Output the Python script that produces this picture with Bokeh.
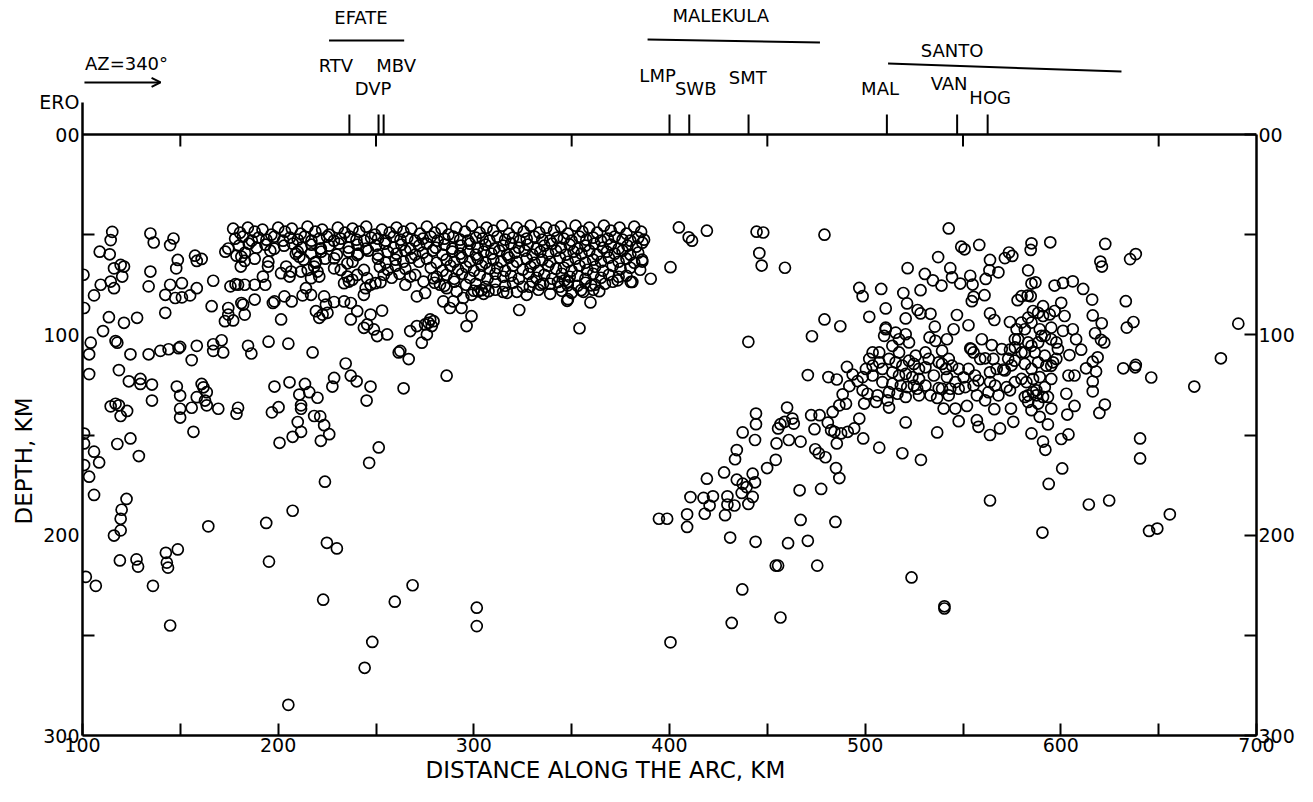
from bokeh.plotting import figure
from bokeh.models import Range1d, LinearAxis, FixedTicker, Label, Arrow, OpenHead, Title, Span
from bokeh.embed import file_html
from bokeh.resources import INLINE

FONT = "DejaVu Sans"

# ---------------- axis / annotation data ----------------
X_LABEL_TICKS = [100, 200, 300, 400, 500, 600, 700]
X_MINOR_TICKS = [150, 250, 350, 450, 550, 650]
Y_LABEL_TICKS = [0, 100, 200, 300]
Y_MINOR_TICKS = [50, 150, 250]

STATIONS = ["ERO", "RTV", "DVP", "MBV", "LMP", "SWB", "SMT", "MAL", "VAN", "HOG"]
STATION_KM = [100, 236.4, 251.3, 253.9, 400, 410.1, 440.4, 511.1, 547.0, 562.6]

ISLANDS = ["EFATE", "MALEKULA", "SANTO"]
ISLAND_START_KM = [226.0, 388.8, 511.7]
ISLAND_END_KM = [264.4, 476.9, 631.0]

AZIMUTH_TEXT = "AZ=340°"

# ---------------- earthquake hypocentres (distance km, depth km) ----------------
SHALLOW_BAND = [
    (177, 47), (184.5, 46.5), (192, 47.5), (200, 46.5), (207, 47), (215, 46), (222.5, 47.5), (230.5, 46.5),
    (238, 47), (245, 46), (253, 47.5), (260.5, 46.5), (268, 47), (276, 46), (283.5, 47), (291, 46.5),
    (299, 45.5), (306.5, 46.5), (314.5, 45.5), (322, 46.5), (329, 45.5), (337, 46.5), (344.5, 46),
    (352, 45.5), (359, 46.5), (366.5, 45.5), (374.5, 46.5), (382, 46),
    (180.5, 49), (188, 48.5), (196.5, 50), (203.5, 48.5), (211.5, 49.5), (219, 48.5), (226, 50), (234, 49),
    (241.5, 48.5), (249.5, 50), (257, 49), (264, 48.5), (272.5, 49.5), (280, 49), (287, 50), (295.5, 48.5),
    (303, 49), (310, 48), (318, 49.5), (325.5, 48.5), (333.5, 49), (341, 48), (348, 49.5), (355.5, 48.5),
    (363, 49), (370, 48), (378, 49.5), (385.5, 48.5),
    (178, 52), (182, 51), (186.5, 53), (190, 51.5), (194, 52.5), (198, 51), (202.5, 53), (206, 51.5),
    (210, 52.5), (213.5, 51), (217, 53), (221, 52), (225, 51), (228.5, 53), (232, 52), (236.5, 51),
    (240, 52.5), (244, 53), (247.5, 51.5), (251, 52), (255, 53), (259, 51), (262.5, 52.5), (266, 51.5),
    (270, 53), (274, 52), (278, 51), (281.5, 53), (285, 52), (289.5, 51), (293, 52.5), (297, 53),
    (301, 51.5), (304.5, 52), (308, 53), (312, 51), (316, 52.5), (320, 51.5), (323.5, 53), (327, 52),
    (331, 51), (335, 52.5), (339, 53), (342.5, 51.5), (346, 52), (350, 53), (354, 51), (357.5, 52.5),
    (361, 51.5), (365, 53), (368.5, 52), (372, 51), (376, 52.5), (380, 53), (384, 51.5), (387, 52.5),
    (180, 55.5), (185, 54.5), (189, 56.5), (193.5, 55), (198, 57), (203, 55.5), (207.5, 54.5), (212, 56.5),
    (217, 55), (221.5, 57), (226, 55.5), (231, 54.5), (236, 56.5), (240.5, 55), (245, 57), (250, 55.5),
    (254.5, 54.5), (259, 56.5), (263, 55), (267.5, 57), (272, 55.5), (276, 54.5), (280.5, 56.5), (285, 55),
    (289, 57), (293.5, 55.5), (298, 54.5), (302, 56.5), (306, 55), (310.5, 57), (315, 55.5), (319, 54.5),
    (323, 56.5), (327.5, 55), (332, 57), (336, 55.5), (340, 54.5), (344.5, 56.5), (349, 55), (353, 57),
    (357, 55.5), (361.5, 54.5), (366, 56.5), (370, 55), (374, 57), (378.5, 55.5), (383, 56),
    (183, 59), (196, 58), (209, 59.5), (222, 58.5), (230, 60), (236, 58.5), (241, 59.5), (246, 58), (251, 60),
    (256, 58.5), (260.5, 59.5), (265, 58), (270, 60), (274, 59), (279, 58), (284, 60), (289, 58.5),
    (293, 59.5), (297, 58), (301, 60), (305, 58.5), (309, 59.5), (313, 58), (317, 60), (321, 59), (326, 58),
    (330, 60), (334, 58.5), (338, 59.5), (342, 58), (347, 60), (351, 58.5), (355, 59.5), (359, 58), (363, 60),
    (368, 58.5), (372, 59.5), (376, 58), (380, 60), (384, 59),
    (188, 62), (195, 63.5), (213, 62.5), (219, 64), (224, 62), (238, 63.5), (251, 62), (255, 64), (260, 62.5),
    (264, 63.5), (268, 61.5), (272, 63.5), (276, 62), (281, 64), (286, 62.5), (290, 63.5), (294, 61.5),
    (298, 63.5), (302, 62), (306, 64), (310, 62.5), (314, 63.5), (318, 61.5), (322, 63.5), (327, 62),
    (331, 64), (335, 62.5), (339, 63.5), (344, 61.5), (348, 63.5), (352, 62), (357, 64), (361, 62.5),
    (365, 63.5), (369, 61.5), (374, 63.5), (378, 62), (382, 64), (386, 62.5),
    (252, 66), (256, 67.5), (260, 65.5), (265, 67), (278, 66.5), (284, 68), (288, 65.5), (292, 67.5),
    (296, 66), (300, 68), (304, 65.5), (308, 67), (312, 66.5), (316, 68), (320, 65.5), (325, 67.5), (329, 66),
    (333, 68), (338, 65.5), (342, 67), (346, 66.5), (350, 68), (354, 65.5), (358, 67.5), (362, 66), (366, 68),
    (371, 65.5), (375, 67), (380, 66.5), (385, 67.5),
    (254, 70), (258, 71.5), (262, 69.5), (281, 71), (286, 70), (290, 72), (294, 69.5), (298, 71.5), (303, 70),
    (307, 72), (311, 69.5), (315, 71), (319, 70.5), (323, 72), (328, 69.5), (332, 71.5), (336, 70), (340, 72),
    (345, 69.5), (349, 71), (353, 70.5), (357, 72), (361, 69.5), (365, 71.5), (369, 70), (374, 71),
    (378, 70.5),
    (280, 74), (285, 75.5), (290, 73.5), (296, 75), (301, 74.5), (306, 76), (311, 73.5), (316, 75.5),
    (320, 74), (325, 76), (330, 73.5), (334, 75), (339, 74.5), (344, 76), (348, 73.5), (353, 75.5), (357, 74),
    (362, 75), (367, 74.5), (371, 73.5),
    (300, 78), (305, 79.5), (311, 77.5), (317, 79), (322, 78.5), (327, 80), (333, 77.5), (339, 79.5),
    (345, 78), (350, 79), (356, 78.5), (361, 77.5),
]

EFATE_SCATTER = [
    (115.2, 48.6), (114.4, 52.7), (108.8, 58.5), (113.9, 59.8), (134.7, 49.4), (136.4, 53.9), (146.5, 51.9),
    (144.8, 55.2), (157.5, 60.5), (160.9, 62.1), (158.4, 63.1), (148.7, 62.6), (147.9, 66.8), (134.7, 68.4),
    (119.5, 65.1), (121.2, 65.9), (116.1, 66.8), (120.3, 70.9), (114.4, 73.4), (109.3, 75), (116.1, 76.7),
    (105.9, 80.3), (133.8, 75.8), (144.8, 75), (150.8, 74.2), (158.4, 76.7), (142.3, 80), (147.4, 81.6),
    (150.8, 81.3), (155, 80.3), (166.8, 73), (166, 85.7), (142.3, 89), (113.5, 91.2), (121.2, 94),
    (127.9, 91.5), (110.5, 98.1), (100.8, 86.6), (100.5, 70), (104.2, 103.9), (103.4, 109.7), (116.9, 103.1),
    (117.8, 103.9), (124.5, 109.7), (133.8, 109.7), (139.8, 108), (144, 107.2), (149.9, 106), (149.1, 106.7),
    (158.4, 105.5), (166.8, 104.7), (171.1, 102.7), (166.8, 108), (171.9, 108.8), (155.8, 112.6),
    (184.6, 105.5), (186.3, 109.3), (195.1, 103.4), (205.2, 104.4), (217.6, 108.8), (118.6, 117.6),
    (103.4, 119.6), (123.7, 123.2), (129.6, 122), (129.6, 124.5), (135.5, 124.8), (148.2, 125.8),
    (149.9, 130.3), (160.9, 124.5), (161.8, 126.2), (163.5, 128.6), (158.4, 131.1), (162.6, 132.8),
    (163.5, 135.2), (169.4, 136.9), (155.8, 136.4), (149.9, 136.9), (149.9, 141.3), (114.4, 135.7),
    (116.9, 134.4), (118.6, 135.2), (122.8, 138), (119.5, 140.5), (135.5, 132.8), (156.7, 148.4),
    (179.5, 136.4), (178.7, 139.4), (198.1, 125.8), (205.8, 123.7), (213.7, 124.5), (215.9, 128.6),
    (220.1, 131.4), (210.8, 129.8), (200.2, 136.1), (196.8, 138.7), (211.7, 135.2), (211.7, 136.9),
    (210, 143.5), (218.4, 140.5), (221.5, 140.7), (223.5, 145.1), (226.1, 149.6), (211.7, 148.4),
    (207.4, 150.9), (200.7, 153.9), (221.8, 152.9), (234.5, 114.3), (237.1, 120.4), (240.1, 123.2),
    (247.2, 125.8), (228.6, 121.5), (227.7, 125.8), (245.2, 132.8), (251.4, 156.2), (264.1, 126.7),
    (286.1, 120.4), (124.5, 151.7), (117.8, 154.5), (128.8, 160.5), (105.9, 158.3), (100.8, 149.3),
    (100.8, 154.2),
    (108.5, 163.7), (100.8, 165), (103.4, 170.8), (105.9, 179.9), (122.5, 181.9), (120, 187.3),
    (119.5, 191.8), (119.5, 197.6), (116.1, 200.2), (119.1, 212.6), (127.6, 212.1), (128.4, 215.7),
    (142.6, 208.8), (148.7, 207.1), (143.1, 213.7), (143.7, 216.2), (136, 225.3), (144.8, 245.1),
    (106.8, 225.3), (101.7, 220.8), (164.3, 195.6), (193.9, 193.9), (207.4, 187.8), (195.3, 213.2),
    (223.9, 173.3), (224.9, 203.8), (230, 206.6), (223, 232.2), (246.5, 163.9), (268.7, 225),
    (259.6, 233.2), (248.1, 253.3), (244.2, 266.2), (205.2, 284.7), (301.5, 236.2), (301.5, 245.4),
]

BAND_FRINGE = [
    (174.5, 89.9), (177, 92.8), (172.8, 93.2), (174.5, 86.6), (182.9, 89.9), (181.2, 84.1), (182.1, 84.9),
    (188, 82.4), (197.3, 84.1), (198.1, 83.3), (206.9, 83.3), (201.5, 92.3), (203.2, 80.8), (212.5, 80.3),
    (216.8, 80), (223.5, 80.8), (224.4, 84.9), (228.6, 83.6), (233.7, 83.3), (237.1, 84.1), (219.3, 88.2),
    (225.2, 89), (221, 91.5), (222.7, 89.9), (237.1, 92.3), (240.4, 88.2), (247.2, 89.9), (253.1, 87.9),
    (243.8, 96.5), (245.5, 94.8), (248.9, 97.3), (250.6, 100.6), (255.7, 99.8), (262.4, 108), (261.6, 108.8),
    (266.7, 112.1), (174.5, 56.9), (173, 58.5), (178.7, 60.5), (181.2, 61), (180.9, 65.9), (182.9, 63.1),
    (175.6, 75.8), (178.2, 74.7), (179.5, 75), (182.9, 75), (188, 75), (192.2, 70.9), (193.4, 75),
    (194.8, 65.9), (201.5, 69.2), (204.1, 65.9), (206.6, 68.4), (205.8, 70.9), (210, 58.5), (210.8, 61),
    (211.7, 68.4), (215.1, 67.6), (214.2, 76.7), (218.4, 65.9), (220.1, 68.4), (221, 70.9), (219.3, 63.5),
    (216.8, 59.3), (221.8, 56.9), (216.8, 71.7), (228.6, 66.8), (232, 67.6), (235.4, 70.9), (237.9, 72.5),
    (240.4, 70.1), (243.8, 67.6), (245.5, 71.7), (247.2, 75), (249.7, 74.2), (252.3, 73.7), (233.7, 74.2),
    (236.2, 73.4), (228.6, 61.8), (240.4, 60.2), (235.4, 64.3), (243.8, 80), (244.7, 76.7), (265, 75),
    (267.5, 70.9), (270, 70.1), (274.3, 73.4), (270.9, 80.8), (275.1, 79.1), (277.7, 92.3), (276.8, 94),
    (279.4, 93.2), (275.1, 94.8), (278.5, 95.6), (270.9, 95.6), (276, 99.8), (273.4, 103.9), (267.5, 98.1),
    (287.8, 86.6), (293.7, 86.6), (298.8, 90.7), (296.3, 95.6), (284.4, 83.3), (289.5, 83.3), (294.6, 81.6),
    (291.2, 78.3), (286.1, 76.7), (282.7, 75), (279.4, 71.7), (298.8, 80), (302.2, 78.3),
    (304, 77.7), (307.5, 78.2), (315, 78.6), (328.6, 76), (335.4, 74.4), (343, 73.6), (346.4, 72.8),
    (348, 75.3), (354.8, 77.7), (360, 75.3), (323.2, 87.6), (347.7, 83), (348.1, 82.2), (359.6, 83.8),
    (354, 96.7), (364.1, 78.2), (373.5, 72.8), (380.2, 73.6), (381, 73.6), (386.1, 54), (386.1, 63.4),
    (390.4, 72), (400.5, 66.2),
]

MALEKULA_SLAB = [
    (404.8, 46.4), (409.8, 51.3), (411.5, 53), (419.1, 48), (444.5, 48.5), (447.9, 48.9), (445.9, 59.2),
    (447.1, 65.4), (459, 66.5), (479.2, 50), (479.2, 92.3), (487.3, 95.7), (472.8, 100.7), (440.3, 103.5),
    (470.7, 120.1), (481.2, 121.1), (485.5, 122.3), (490.7, 116), (493.6, 119.8), (496.1, 123.1),
    (491.9, 125.6), (488.5, 129.7),
    (444.2, 139.3), (444.2, 144.6), (443.7, 152.5), (437.4, 148.7), (434.4, 157.5), (433.5, 162.1),
    (427.9, 168.7), (419.1, 171.8), (410.7, 181), (417.4, 181.4), (422.2, 180.6), (420.5, 185.2),
    (418, 189.3), (409, 189.6), (409, 195.9), (394.6, 191.8), (398.8, 191.8), (429.6, 180.6), (429.6, 184.7),
    (433.2, 185.2), (428.4, 190), (434.4, 172.3), (437.4, 174.3), (439.4, 176), (436.9, 178.9),
    (442.5, 180.9), (440.3, 184.4), (442.5, 169.3), (443.7, 173.6), (449.9, 166.5), (454.3, 162.4),
    (454.7, 154.2), (455.5, 146.7), (456.7, 144.6), (458.9, 143.4), (460.1, 136.3), (462.8, 141.8),
    (463.5, 144.3), (461, 152.5), (467, 153.3), (466.5, 177.6), (467, 192.4), (460.6, 204), (470.7, 202.8),
    (475.5, 215.2), (454.3, 215.2), (455.5, 215.2), (437.2, 227.1), (431.8, 243.8), (456.7, 241.1),
    (400.5, 253.5), (431, 201.2), (444, 203.3), (472.4, 140.1), (476.7, 140.1), (474.1, 147.1),
    (474.5, 157.1), (476.3, 159.1), (479.7, 161.1), (480.9, 143.8), (483.4, 138.5), (485.1, 166.5),
    (486.8, 171.5), (484.8, 193.4), (477.5, 176.9), (485.5, 154.2), (484.3, 148.4), (487.7, 149.2),
    (491.1, 148.4), (494.4, 146.7), (497, 141.8), (499, 151.7), (486.8, 135.2), (490.2, 134.4),
    (482.6, 147.6),
]

SANTO_CLUSTER = [
    (542.7, 46.9), (549.1, 56), (550.8, 57.3), (558.3, 55.1), (537.3, 61.2), (521.7, 66.7), (530.5, 69.6),
    (534.6, 72.8), (539, 75.4), (543.5, 66.7), (544.4, 71.3), (548.6, 74.4), (553.7, 70.5), (554.9, 74.9),
    (555.4, 81), (554.5, 83.2), (561, 80.2), (561.6, 72.1), (563.8, 62.6), (563.5, 67.8), (568.1, 68.8),
    (571.4, 61.7), (573.5, 58.9), (575.2, 60.6), (585, 54.3), (584.6, 57.6), (594.6, 53.8), (583.3, 67.8),
    (585, 74.4), (587, 73.8), (577.9, 82.7), (579.9, 80.7), (583, 80.4), (584.6, 80.7), (596.8, 75.4),
    (601.1, 74.1), (606.1, 73.3), (611.4, 77.1), (620.2, 63.4), (621, 65.9), (622.7, 54.6), (635.4, 62.2),
    (638.3, 59.7), (616, 82.4), (633.2, 83.2), (633.7, 96.4), (637.1, 93.6), (620.9, 94.2), (616.3, 90.3),
    (617.5, 99.2), (620.5, 102.5), (622.2, 103.8), (618.8, 111.2), (616.3, 113.4), (618, 118.3),
    (616.3, 123.3), (616.3, 128.2), (622.5, 134.8), (619.7, 139), (631.9, 116.7), (638.3, 115),
    (638, 116.2), (646.2, 121.3), (640.5, 151.7), (668.2, 125.8), (681.8, 111.7), (690.7, 94.4),
    (508.2, 77.1), (510.5, 86.8), (502.1, 91), (498.7, 80.7), (497, 76.6), (519.5, 79.1), (521.4, 84.3),
    (528.3, 77.7), (526.8, 87.6), (528.3, 89.3), (533.4, 89.5), (520.7, 91.8), (535.6, 95.9), (532.9, 101.3),
    (535.9, 103), (541.8, 102.2), (545.2, 97.2), (546.9, 90.1), (552.8, 95.2), (559.6, 102.2), (563.8, 89.3),
    (566, 92.6), (574, 93.6), (564.7, 105.1), (569.8, 107.1), (554.2, 107.1), (510.5, 97.2), (507.2, 108.8),
    (503.8, 108.8), (502.1, 112), (498.7, 121.1), (498.7, 127.7), (503.8, 120.3), (506.3, 130.2),
    (505.5, 133.5), (512.2, 136.3), (520.7, 143.7), (536.8, 148.7), (507.2, 156.3), (519, 159.1),
    (547.8, 143.1), (557.1, 142.6), (557.9, 145.9), (563.8, 150), (568.9, 146.7), (575.7, 143.4),
    (574.5, 136.8), (566, 137.1), (552, 135.5), (546.1, 136.8), (540.1, 136.8), (533.4, 130.2),
    (536.8, 131.5), (527.5, 130.2), (526.6, 126.9), (530.8, 125.3), (537.6, 126.6), (543.5, 126.9),
    (547.8, 126.9), (541.3, 117), (537.6, 113.7), (542.7, 112), (530.8, 108.8), (535.1, 120.3),
    (553.7, 106.8), (555.4, 108.8), (558.8, 112), (561.3, 111.7), (565.5, 112), (563.8, 118.7),
    (567.2, 117), (570.6, 117.3), (574.8, 115.2), (573.1, 111.9), (572.3, 126.1), (574, 127.7),
    (576.5, 123.6), (582.4, 123.6), (583.3, 130.2), (585.8, 128.6), (590.9, 131), (595.1, 136.8),
    (589.2, 140.9), (593.4, 144.7), (585, 149.2), (590.9, 153.3), (592.1, 157.4), (600.2, 152),
    (603.9, 149.7), (603.3, 139.8), (607, 135.5), (602.8, 129.4), (603.9, 120.3), (607, 120.3),
    (604.4, 110.1), (610.4, 107.4), (612.9, 116.7), (607.8, 102.2), (606.1, 97.2), (601.9, 90.6),
    (601.1, 98), (597.7, 103.8), (595.1, 102.2), (598.5, 107.1), (596, 113.7), (597.7, 112), (595.1, 122),
    (591.8, 126.1), (587.5, 130.2), (588.4, 134.3), (585, 137.6), (581.6, 131), (579.9, 122), (576.5, 112.9),
    (574, 107.4), (571.4, 117.8), (581.6, 108.8), (585, 105.5), (588.4, 103.8), (591.8, 100.5),
    (589.2, 97.2), (595.1, 96.4), (590.9, 90.6), (594.3, 89.8), (596.8, 88.1), (600.2, 84), (585, 93.9),
    (581.6, 97.2), (578.2, 102.2), (581.6, 114.5), (585, 117), (588.4, 113.7), (591.8, 110.4),
    (592.6, 115.4), (589.2, 121.1), (585.8, 122), (583.3, 133.5), (587.5, 127.7), (593.4, 131),
    (595.1, 115.4), (590.1, 100.5), (586.7, 108.8), (583.3, 103.8), (579.9, 108.8), (576.5, 106.3),
    (588.4, 89), (590.9, 85.7), (585.8, 88.1), (583.3, 91.4), (579.9, 93.9), (577.4, 97.2), (576.5, 102.2),
    (510.5, 96.4), (509.7, 100.5), (515.6, 98.9), (517.3, 102.2), (520.7, 99.7), (522.4, 103.8),
    (513.9, 105.5), (517.3, 108.8), (512.2, 112), (515.6, 113.7), (519, 115.4), (522.4, 112.9),
    (525.8, 110.4), (524.9, 114.5), (527.5, 117), (513.9, 118.7), (517.3, 120.3), (520.7, 119.5),
    (524.1, 121.1), (527.5, 122), (513.9, 124.4), (518.2, 125.3), (521.5, 126.1), (524.9, 125.3),
    (512.2, 128.6), (516.5, 129.4), (520.7, 131), (511.4, 132.7), (508.8, 123.6), (508.8, 117),
    (507.2, 113.7), (503.8, 115.4), (500.4, 117), (501.2, 129.4), (499.5, 134.3), (530.8, 116.2),
    (532.5, 112), (539.3, 114.5), (544.4, 115.4), (547.8, 117), (546.1, 123.6), (550.3, 121.2),
    (552.8, 117), (556.2, 120.3), (551.1, 126.1), (555.4, 125.3), (557.9, 122.8), (563, 128.6),
    (566.4, 125.3), (561.3, 132.7), (568.1, 130.2), (563.8, 123.6), (557.1, 130.2), (542.7, 130.2),
    (539.3, 126.9), (541.8, 121.1), (539.3, 107.9),
    (528.5, 162.4), (563.8, 182.7), (590.6, 198.7), (614.3, 184.7), (624.7, 182.7), (600.7, 166.7),
    (593.8, 174.4), (640.5, 161.7), (655.7, 189.6), (649.3, 196.7), (645.1, 197.9), (523.7, 221.1),
    (540.5, 235.5), (540.5, 236.6),
]

all_pts = SHALLOW_BAND + EFATE_SCATTER + BAND_FRINGE + MALEKULA_SLAB + SANTO_CLUSTER
dist_km = [pt[0] for pt in all_pts]
depth_km = [pt[1] for pt in all_pts]

# ---------------- figure ----------------
# the frame reaches above depth 0 so that the station/island header is drawn in plot units
TOP_OF_FRAME = -66.9
ERO_LABEL_DEPTH = -16.0
p = figure(width=1297, height=786, x_range=Range1d(100, 700), y_range=Range1d(300, TOP_OF_FRAME),
           output_backend="svg", toolbar_location=None, x_axis_location=None, y_axis_location=None,
           min_border_left=82, min_border_right=40, min_border_top=0, min_border_bottom=51,
           outline_line_color=None, background_fill_color="white", border_fill_color="white")
p.grid.visible = False

axis_style = dict(axis_line_width=2.5, axis_line_color="black", major_tick_line_width=2,
                  minor_tick_line_width=2, major_tick_line_color="black", minor_tick_line_color="black",
                  major_label_text_font=FONT, major_label_text_font_size="19px",
                  major_label_text_color="black")

bottom = LinearAxis(ticker=FixedTicker(ticks=X_LABEL_TICKS, minor_ticks=X_MINOR_TICKS),
                    major_tick_in=12, major_tick_out=0, minor_tick_in=12, minor_tick_out=0,
                    major_label_standoff=2, **axis_style)
p.add_layout(bottom, "below")

# left depth axis; its line is carried up to the ERO station mark, which it labels
left = LinearAxis(ticker=FixedTicker(ticks=[ERO_LABEL_DEPTH] + Y_LABEL_TICKS, minor_ticks=Y_MINOR_TICKS),
                  bounds=(ERO_LABEL_DEPTH, 300),
                  major_tick_in=0, major_tick_out=0, minor_tick_in=12, minor_tick_out=0,
                  major_label_standoff=3, major_label_overrides={ERO_LABEL_DEPTH: STATIONS[0], 0: "00"},
                  **axis_style)
p.add_layout(left, "left")

right = LinearAxis(ticker=FixedTicker(ticks=Y_LABEL_TICKS, minor_ticks=Y_MINOR_TICKS), bounds=(0, 300),
                   major_tick_in=12, major_tick_out=0, minor_tick_in=12, minor_tick_out=0,
                   major_label_standoff=2, major_label_overrides={0: "00"}, **axis_style)
p.add_layout(right, "right")

p.add_layout(Title(text="DEPTH, KM", align="left", offset=211, standoff=0, text_font=FONT,
                   text_font_size="23px", text_font_style="normal", text_color="black"), "left")
p.add_layout(Title(text="DISTANCE ALONG THE ARC, KM", align="left", offset=343, standoff=0, text_font=FONT,
                   text_font_size="23px", text_font_style="normal", text_color="black"), "below")

# top edge of the section (depth 0) with inward minor ticks and outward station ticks
p.add_layout(Span(location=0, dimension="width", line_width=2.5, line_color="black"))
TICK_IN_KM = 6.0
STATION_TICK_KM = 10.0
p.segment(x0=X_MINOR_TICKS, y0=[0] * len(X_MINOR_TICKS), x1=X_MINOR_TICKS,
          y1=[TICK_IN_KM] * len(X_MINOR_TICKS), line_width=2, line_color="black")
p.segment(x0=STATION_KM[1:], y0=[0] * (len(STATION_KM) - 1), x1=STATION_KM[1:],
          y1=[-STATION_TICK_KM] * (len(STATION_KM) - 1), line_width=2, line_color="black")

p.scatter(dist_km, depth_km, marker="circle", size=11, fill_color=None, line_color="black", line_width=1.7)

# ---------------- header annotations ----------------
STATION_LABEL_POS = [None, (229.5, -34.4), (248.5, -23.0), (260.3, -34.4), (393.9, -29.5),
                     (413.4, -23.0), (440.0, -28.5), (507.6, -23.0), (542.9, -25.5), (563.9, -18.5)]
ISLAND_LABEL_POS = [(242.3, -58.4), (426.2, -59.4), (544.4, -41.9)]
ISLAND_BAR_Y = [(-46.9, -46.9), (-47.4, -45.9), (-35.4, -31.5)]

label_style = dict(text_font=FONT, text_font_size="18px", text_color="black",
                   text_align="center", text_baseline="middle")
for name, pos in zip(STATIONS[1:], STATION_LABEL_POS[1:]):
    p.add_layout(Label(x=pos[0], y=pos[1], text=name, **label_style))
for name, (lx, ly), x0, x1, (y0, y1) in zip(ISLANDS, ISLAND_LABEL_POS, ISLAND_START_KM, ISLAND_END_KM, ISLAND_BAR_Y):
    p.add_layout(Label(x=lx, y=ly, text=name, **label_style))
    p.add_layout(Arrow(x_start=x0, y_start=y0, x_end=x1, y_end=y1, end=None, line_width=2, line_color="black"))

p.add_layout(Label(x=122.5, y=-35.4, text=AZIMUTH_TEXT, **label_style))
p.add_layout(Arrow(x_start=101.0, y_start=-26.0, x_end=139.9, y_end=-26.0, line_width=2, line_color="black",
                   end=OpenHead(size=9, line_width=2, line_color="black")))

open("out.html", "w").write(file_html(p, INLINE))
